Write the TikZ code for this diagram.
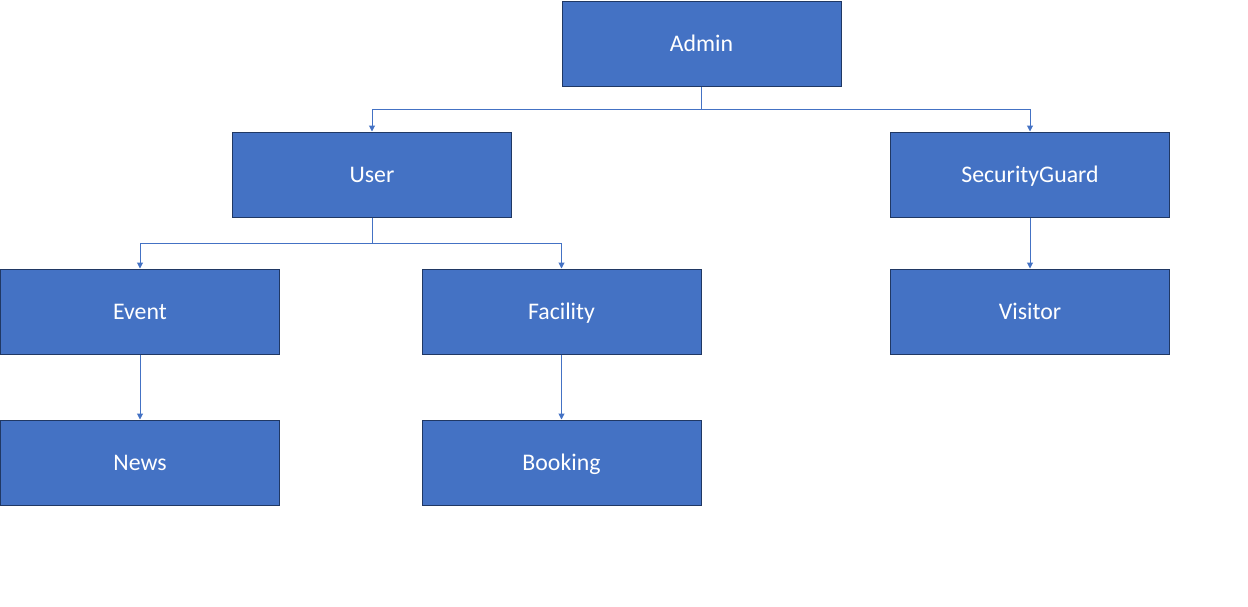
\documentclass[tikz,border=0pt]{standalone}
\usepackage{fontspec}
\setmainfont{Carlito}
\usetikzlibrary{arrows.meta}
\definecolor{boxfill}{HTML}{4472C4}
\definecolor{boxline}{HTML}{203864}
\definecolor{linkcol}{HTML}{4472C4}
\begin{document}
\begin{tikzpicture}[x=1pt,y=-1pt,
  box/.style={draw=boxline,fill=boxfill,line width=1pt,minimum width=279pt,minimum height=85pt,inner sep=0pt,text=white,text height=15pt,text depth=0pt,font=\fontsize{23.8}{28}\selectfont},
  link/.style={draw=linkcol,line width=1pt,-{Triangle[width=6pt,length=6pt]}}]
\useasboundingbox (0,0) rectangle (1248,606);
\node[box] (admin) at (701.5,43.5) {Admin};
\node[box] (user) at (372,174.5) {User};
\node[box] (sg) at (1030,174.5) {SecurityGuard};
\node[box] (event) at (140,311.5) {Event};
\node[box] (facility) at (561.5,311.5) {Facility};
\node[box] (visitor) at (1030,311.5) {Visitor};
\node[box] (news) at (140,462.5) {News};
\node[box] (booking) at (561.5,462.5) {Booking};
\coordinate (j1) at (701.5,109);
\coordinate (j2) at (372,243);
\draw[link] (admin.south) -- (j1) -| (user.north);
\draw[link] (j1) -| (sg.north);
\draw[link] (user.south) -- (j2) -| (event.north);
\draw[link] (j2) -| (facility.north);
\draw[link] (sg.south) -- (visitor.north);
\draw[link] (event.south) -- (news.north);
\draw[link] (facility.south) -- (booking.north);
\end{tikzpicture}
\end{document}
